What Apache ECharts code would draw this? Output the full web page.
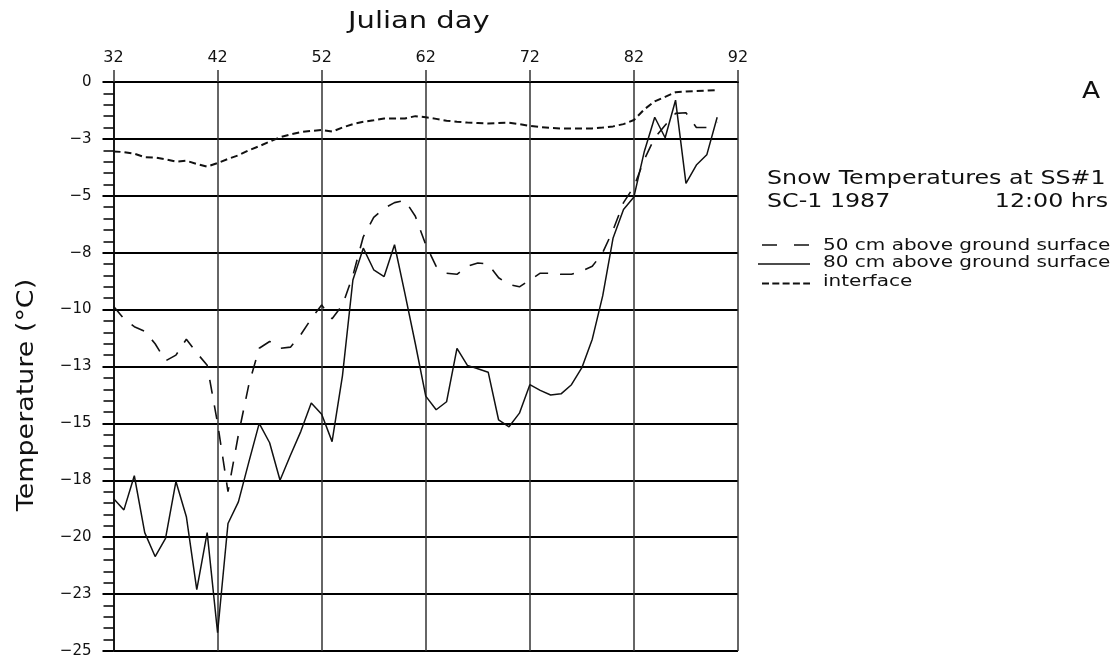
<!DOCTYPE html>
<html>
<head>
<meta charset="utf-8">
<script src="https://cdn.jsdelivr.net/npm/echarts@6/dist/echarts.min.js"></script>
<style>
html,body{margin:0;padding:0;background:#fff;}
#chart{width:1119px;height:660px;}
</style>
</head>
<body>
<div id="chart"></div>
<script>
// Julian days
const days = [32,33,34,35,36,37,38,39,40,41,42,43,44,45,46,47,48,49,50,51,52,53,54,55,56,57,58,59,60,61,
              62,63,64,65,66,67,68,69,70,71,72,73,74,75,76,77,78,79,80,81,82,83,84,85,86,87,88,89,90];
// 50 cm above ground surface (long dashes)
const temp50cm = [-9.85,-10.4,-10.75,-10.95,-11.5,-12.25,-12.0,-11.3,-11.9,-12.45,-15.0,-18.0,-15.5,-13.3,-11.7,
                  -11.4,-11.7,-11.65,-11.1,-10.4,-9.8,-10.4,-9.8,-8.5,-6.8,-5.95,-5.55,-5.3,-5.2,-5.9,
                  -7.15,-8.1,-8.4,-8.45,-8.1,-7.95,-8.0,-8.6,-8.9,-9.0,-8.7,-8.4,-8.4,-8.45,-8.45,
                  -8.3,-8.1,-7.5,-6.5,-5.3,-4.6,-3.4,-2.45,-1.9,-1.38,-1.35,-2.0,-2.0,-1.75];
// 80 cm above ground surface (solid)
const temp80cm = [-18.3,-18.8,-17.3,-19.8,-20.85,-20.05,-17.55,-19.1,-22.3,-19.8,-24.2,-19.4,-18.45,-16.7,-15.0,
                  -15.85,-17.5,-16.4,-15.35,-14.1,-14.6,-15.8,-12.9,-8.7,-7.3,-8.25,-8.55,-7.15,-9.3,-11.5,
                  -13.8,-14.4,-14.05,-11.7,-12.45,-12.6,-12.75,-14.85,-15.15,-14.55,-13.3,-13.55,-13.75,-13.7,-13.3,
                  -12.55,-11.3,-9.4,-6.85,-5.6,-5.05,-3.05,-1.55,-2.45,-0.8,-4.45,-3.65,-3.2,-1.55];
// interface (short dashes)
const tempInterface = [-3.05,-3.08,-3.15,-3.3,-3.32,-3.4,-3.5,-3.46,-3.6,-3.72,-3.56,-3.38,-3.22,-3.0,-2.82,
                       -2.62,-2.43,-2.3,-2.2,-2.15,-2.11,-2.18,-2.0,-1.85,-1.75,-1.68,-1.6,-1.6,-1.6,-1.5,
                       -1.55,-1.62,-1.7,-1.75,-1.78,-1.8,-1.82,-1.8,-1.79,-1.85,-1.93,-1.98,-2.02,-2.04,-2.04,
                       -2.04,-2.04,-2.0,-1.95,-1.85,-1.67,-1.2,-0.85,-0.65,-0.45,-0.42,-0.4,-0.38,-0.35];
// tick labels
const xTickLabels = ['32','42','52','62','72','82','92'];
const yTickLabels = ['0','\u22123','\u22125','\u22128','\u221210','\u221213','\u221215','\u221218','\u221220','\u221223','\u221225'];
const seriesNames = ['50 cm above ground surface','80 cm above ground surface','interface'];

const FONT = '"DejaVu Sans", "Liberation Sans", sans-serif';
const INK = '#111';

function pairs(vals){ return days.map((d,i)=>[d, vals[i]]); }

function txt(text, x, y, size, sx, align, extra){
  return Object.assign({
    type:'text', x:x, y:y, scaleX:sx, silent:true,
    style:{text:text, fontSize:size, fontFamily:FONT, fill:INK,
           align:align, textAlign:align, verticalAlign:'middle', textVerticalAlign:'middle'}
  }, extra||{});
}

const chart = echarts.init(document.getElementById('chart'), null, {renderer:'canvas'});
chart.setOption({
  animation:false,
  backgroundColor:'#fff',
  grid:{left:113.5, right:381, top:82, bottom:9, containLabel:false},
  xAxis:{
    type:'value', position:'top', min:32, max:92, interval:10,
    axisLine:{show:true, lineStyle:{color:'#000', width:2}},
    axisTick:{show:true, inside:false, length:12, lineStyle:{color:'#333', width:1.5}},
    axisLabel:{show:true, margin:16, fontSize:16, fontFamily:FONT, color:INK,
      formatter:function(v){ return xTickLabels[Math.round((v-32)/10)]; }},
    splitLine:{show:true, lineStyle:{color:'#333', width:1.5}}
  },
  yAxis:{
    type:'value', min:-25, max:0, interval:2.5,
    axisLine:{show:true, lineStyle:{color:'#000', width:1.5}},
    axisTick:{show:true, inside:false, length:11, lineStyle:{color:'#000', width:2}},
    minorTick:{show:true, splitNumber:5, length:10, lineStyle:{color:'#000', width:1.5}},
    axisLabel:{show:true, margin:22, fontSize:15, fontFamily:FONT, color:INK,
      formatter:function(v){ return yTickLabels[Math.round(-v/2.5)]; }},
    splitLine:{show:true, lineStyle:{color:'#000', width:2}}
  },
  series:[
    {name:seriesNames[0], type:'line', data:pairs(temp50cm), symbol:'none', showSymbol:false,
     lineStyle:{color:INK, width:1.6, type:[14,12]}, z:3},
    {name:seriesNames[1], type:'line', data:pairs(temp80cm), symbol:'none', showSymbol:false,
     lineStyle:{color:INK, width:1.5, type:'solid'}, z:3},
    {name:seriesNames[2], type:'line', data:pairs(tempInterface), symbol:'none', showSymbol:false,
     lineStyle:{color:INK, width:2, type:[7,4]}, z:3}
  ],
  graphic:[
    txt('Julian day', 348, 22, 23, 1.26, 'left'),
    txt('Temperature (\u00B0C)', 27, 395, 23, 1.17, 'center', {rotation:Math.PI/2}),
    txt('A', 1082, 92, 23, 1.15, 'left'),
    txt('Snow Temperatures at SS#1', 767, 179, 19, 1.25, 'left'),
    txt('SC-1 1987', 767, 202.5, 19, 1.25, 'left'),
    txt('12:00 hrs', 1108, 202.5, 19, 1.25, 'right'),
    {type:'line', silent:true, shape:{x1:762, y1:245, x2:810, y2:245},
     style:{stroke:INK, lineWidth:1.6, lineDash:[15,17]}},
    {type:'line', silent:true, shape:{x1:758, y1:264, x2:810, y2:264},
     style:{stroke:INK, lineWidth:1.5}},
    {type:'line', silent:true, shape:{x1:762, y1:283.5, x2:810, y2:283.5},
     style:{stroke:INK, lineWidth:2, lineDash:[7,3.3]}},
    txt(seriesNames[0], 823, 246, 16, 1.25, 'left'),
    txt(seriesNames[1], 823, 262.5, 16, 1.25, 'left'),
    txt(seriesNames[2], 823, 281.5, 16, 1.25, 'left')
  ]
});
</script>
</body>
</html>
